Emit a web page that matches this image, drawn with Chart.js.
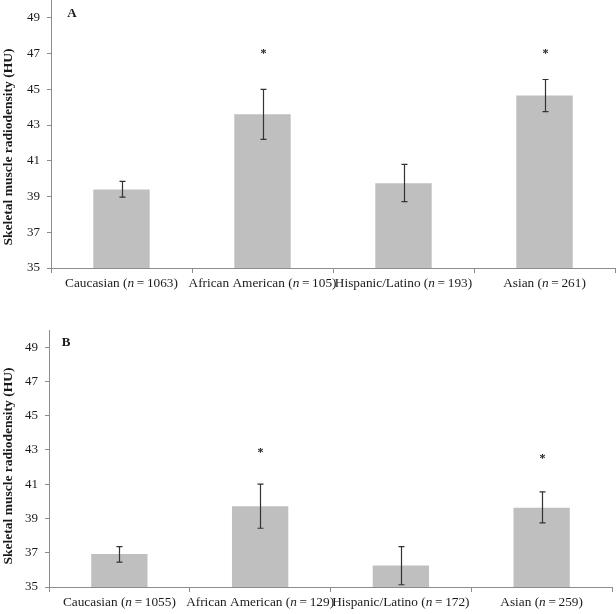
<!DOCTYPE html>
<html>
<head>
<meta charset="utf-8">
<script src="https://cdn.jsdelivr.net/npm/chart.js@4"></script>
<style>
  body { margin: 0; background: #fff; width: 616px; height: 614px; position: relative; overflow: hidden; }
  .panel { position: absolute; left: 0; width: 616px; }
  #wrapA { top: 0; height: 300px; }
  #wrapB { top: 300px; height: 314px; }
</style>
</head>
<body>
<div class="panel" id="wrapA"><canvas id="chartA"></canvas></div>
<div class="panel" id="wrapB"><canvas id="chartB"></canvas></div>
<script>
// data
const groups = ['Caucasian', 'African American', 'Hispanic/Latino', 'Asian'];
const yTicks = [35, 37, 39, 41, 43, 45, 47, 49];
const yTitle = 'Skeletal muscle radiodensity (HU)';

// panel A
const nA = [1063, 105, 193, 261];
const meanA = [39.4, 43.6, 39.75, 44.65];
const hiA = [39.85, 45.0, 40.8, 45.55];
const loA = [38.97, 42.2, 38.72, 43.75];
const starA = [null, 47.1, null, 47.1];

// panel B
const nB = [1055, 129, 172, 259];
const meanB = [36.92, 39.72, 36.25, 39.63];
const hiB = [37.36, 41.0, 37.36, 40.55];
const loB = [36.45, 38.43, 35.13, 38.74];
const starB = [null, 42.95, null, 42.6];

const SERIF = "'Liberation Serif', 'Times New Roman', serif";
const AXIS = '#8c8c8c';
const INK = '#1a1a1a';

// error bars, asterisks, mixed-italic x labels, axis title and the panel letter
const extras = {
  id: 'extras',
  afterDatasetsDraw(chart, args, opts) {
    const ctx = chart.ctx;
    const y = chart.scales.y, x = chart.scales.x;
    const meta = chart.getDatasetMeta(0);
    ctx.save();

    ctx.strokeStyle = '#333';
    ctx.lineWidth = 1.2;
    meta.data.forEach((bar, i) => {
      const cx = Math.round(bar.x) + 0.5;
      const top = y.getPixelForValue(opts.hi[i]);
      const bot = y.getPixelForValue(opts.lo[i]);
      ctx.beginPath();
      ctx.moveTo(cx, top); ctx.lineTo(cx, bot);
      ctx.moveTo(cx - 3, top); ctx.lineTo(cx + 3, top);
      ctx.moveTo(cx - 3, bot); ctx.lineTo(cx + 3, bot);
      ctx.stroke();

      if (opts.star[i] != null) {
        ctx.fillStyle = INK;
        ctx.font = 'bold 12px ' + SERIF;
        ctx.textAlign = 'center';
        ctx.textBaseline = 'alphabetic';
        ctx.fillText('*', cx, y.getPixelForValue(opts.star[i]) + 5);
      }
    });

    // category labels: "Name (n = 123)" with italic n
    ctx.fillStyle = INK;
    ctx.textBaseline = 'middle';
    ctx.textAlign = 'left';
    const ly = chart.chartArea.bottom + 16;
    groups.forEach((g, i) => {
      const parts = [
        [g + ' (', '13.3px ' + SERIF],
        ['n', 'italic 13.3px ' + SERIF],
        ['\u2009=\u2009' + opts.n[i] + ')', '13.3px ' + SERIF]
      ];
      let w = 0;
      parts.forEach(p => { ctx.font = p[1]; w += ctx.measureText(p[0]).width; });
      let px = x.getPixelForValue(i) - w / 2;
      parts.forEach(p => {
        ctx.font = p[1];
        ctx.fillText(p[0], px, ly);
        px += ctx.measureText(p[0]).width;
      });
    });

    // rotated y-axis title
    ctx.save();
    ctx.translate(9, opts.titleY);
    ctx.rotate(-Math.PI / 2);
    ctx.font = 'bold 13.5px ' + SERIF;
    ctx.textAlign = 'center';
    ctx.textBaseline = 'middle';
    ctx.fillText(yTitle, 0, 0);
    ctx.restore();

    ctx.font = 'bold 13px ' + SERIF;
    ctx.textAlign = 'center';
    ctx.textBaseline = 'middle';
    ctx.fillText(opts.letter, chart.chartArea.left + opts.letterDx, y.getPixelForValue(49.25));
    ctx.restore();
  }
};

function makePanel(canvasId, means, hi, lo, star, n, letter, layout) {
  const ctx = document.getElementById(canvasId).getContext('2d');
  return new Chart(ctx, {
    type: 'bar',
    data: {
      labels: groups,
      datasets: [{
        data: means,
        backgroundColor: '#bfbfbf',
        borderWidth: 0,
        barPercentage: 0.4,
        categoryPercentage: 1
      }]
    },
    options: {
      responsive: true,
      maintainAspectRatio: false,
      animation: false,
      devicePixelRatio: 1,
      layout: { padding: layout.padding },
      plugins: {
        legend: { display: false },
        tooltip: { enabled: false },
        extras: { hi: hi, lo: lo, star: star, n: n, letter: letter, letterDx: layout.letterDx, titleY: layout.titleY }
      },
      scales: {
        x: {
          offset: true,
          afterFit: s => { s.height = layout.xHeight; s.paddingLeft = 0; s.paddingRight = 0; },
          border: { color: AXIS, width: 1 },
          grid: { offset: true, drawOnChartArea: false, tickLength: 5, color: AXIS },
          ticks: { display: false }
        },
        y: {
          min: 35,
          max: 50,
          afterBuildTicks: s => { s.ticks = yTicks.map(v => ({ value: v })); },
          afterFit: s => { s.width = layout.yWidth; s.paddingTop = 0; s.paddingBottom = 0; },
          border: { color: AXIS, width: 1 },
          grid: { drawOnChartArea: false, tickLength: 4, color: AXIS },
          ticks: { color: INK, padding: 7, font: { family: SERIF, size: 13 } }
        }
      }
    },
    plugins: [extras]
  });
}

makePanel('chartA', meanA, hiA, loA, starA, nA, 'A',
  { padding: { top: 0, right: 1, left: 0, bottom: 0 }, xHeight: 32, yWidth: 51, letterDx: 21, titleY: 147 });
makePanel('chartB', meanB, hiB, loB, starB, nB, 'B',
  { padding: { top: 30, right: 4, left: 0, bottom: 0 }, xHeight: 27, yWidth: 49, letterDx: 17, titleY: 166 });
</script>
</body>
</html>
